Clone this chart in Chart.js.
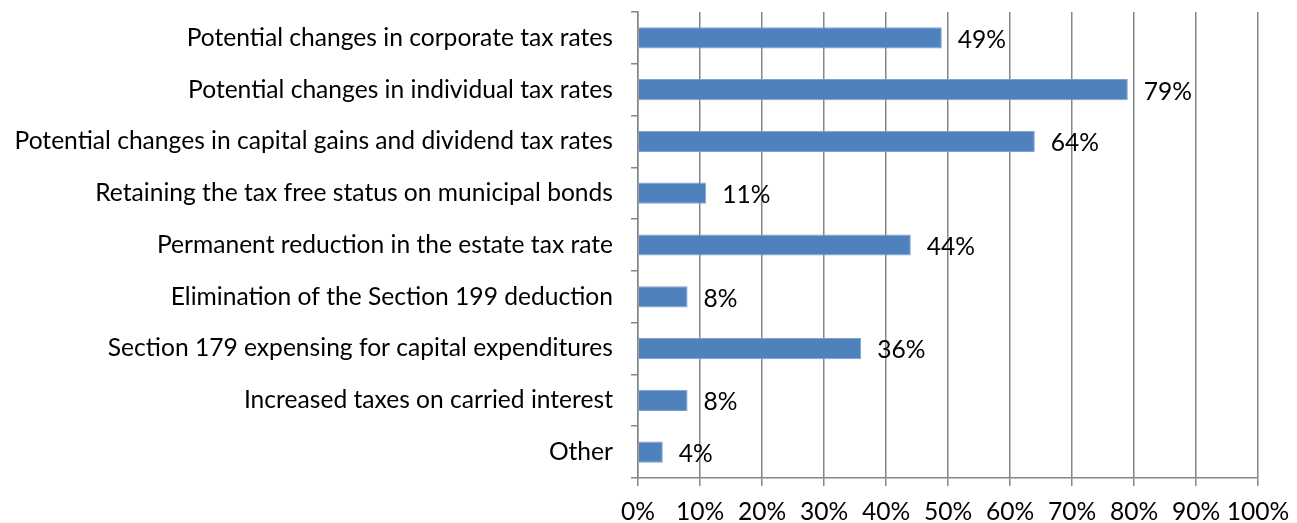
<!DOCTYPE html>
<html>
<head>
<meta charset="utf-8">
<script src="https://cdn.jsdelivr.net/npm/chart.js@4"></script>
<style>
  html, body { margin: 0; padding: 0; background: #fff; }
  #wrap { width: 1297px; height: 523px; }
</style>
</head>
<body>
<div id="wrap"><canvas id="barChart"></canvas></div>
<script>
const categories = [
    'Potential changes in corporate tax rates',
    'Potential changes in individual tax rates',
    'Potential changes in capital gains and dividend tax rates',
    'Retaining the tax free status on municipal bonds',
    'Permanent reduction in the estate tax rate',
    'Elimination of the Section 199 deduction',
    'Section 179 expensing for capital expenditures',
    'Increased taxes on carried interest',
    'Other'
];
const percentValues = [49, 79, 64, 11, 44, 8, 36, 8, 4];
const tickLabels = ['0%', '10%', '20%', '30%', '40%', '50%', '60%', '70%', '80%', '90%', '100%'];

const fontFamily = 'Lato, "Open Sans", sans-serif';
const fontSize = 24.6;

// draws the "49%" style labels after each bar
const barLabels = {
    id: 'barLabels',
    afterDatasetsDraw(chart) {
        const ctx = chart.ctx;
        const meta = chart.getDatasetMeta(0);
        ctx.save();
        ctx.font = fontSize + 'px ' + fontFamily;
        ctx.fillStyle = '#000';
        ctx.textAlign = 'left';
        ctx.textBaseline = 'middle';
        meta.data.forEach(function (bar, i) {
            ctx.fillText(percentValues[i] + '%', bar.x + 16, bar.y + 2);
        });
        ctx.restore();
    }
};

var ctx = document.getElementById('barChart').getContext('2d');
var myChart = new Chart(ctx, {
    type: 'bar',
    data: {
        labels: categories,
        datasets: [{
            data: percentValues,
            backgroundColor: '#4F81BD',
            borderColor: '#7EA2D0',
            borderWidth: 1,
            categoryPercentage: 1,
            barPercentage: 0.41
        }]
    },
    plugins: [barLabels],
    options: {
        indexAxis: 'y',
        responsive: true,
        maintainAspectRatio: false,
        animation: false,
        layout: { padding: { left: 0, right: 39, top: 12, bottom: 0 } },
        plugins: {
            legend: { display: false },
            tooltip: { enabled: false }
        },
        scales: {
            x: {
                min: 0,
                max: 100,
                afterBuildTicks: function (scale) {
                    scale.ticks = tickLabels.map(function (t) { return { value: parseInt(t) }; });
                },
                afterFit: function (scale) {
                    scale.height = 45;
                    scale.paddingLeft = 0;
                    scale.paddingRight = 0;
                },
                ticks: {
                    callback: function (v, i) { return tickLabels[i]; },
                    color: '#000',
                    font: { family: fontFamily, size: fontSize },
                    padding: 11,
                    autoSkip: false,
                    maxRotation: 0
                },
                grid: {
                    color: '#868686',
                    lineWidth: 1.5,
                    tickLength: 8,
                    drawOnChartArea: true
                },
                border: { color: '#868686', width: 1.5 }
            },
            y: {
                afterFit: function (scale) {
                    scale.width = 638;
                    scale.paddingTop = 0;
                    scale.paddingBottom = 0;
                },
                ticks: {
                    color: '#000',
                    font: { family: fontFamily, size: fontSize },
                    padding: 18,
                    autoSkip: false
                },
                grid: {
                    color: '#868686',
                    lineWidth: 1.5,
                    tickLength: 7,
                    offset: true,
                    drawOnChartArea: false
                },
                border: { color: '#868686', width: 1.5 }
            }
        }
    }
});
</script>
</body>
</html>
